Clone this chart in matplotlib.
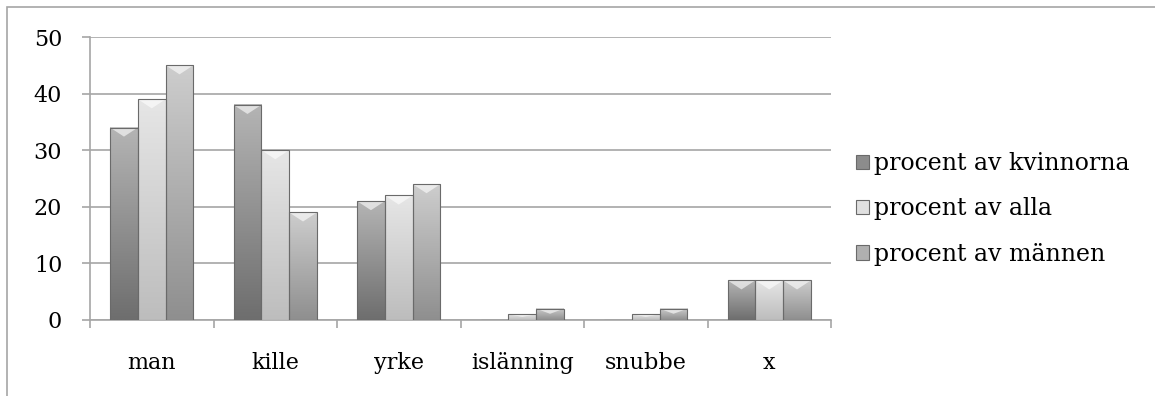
import numpy as np
import matplotlib
matplotlib.use('Agg')
import matplotlib.pyplot as plt
from matplotlib.colors import LinearSegmentedColormap
from matplotlib.patches import Patch, Rectangle

categories = ['man', 'kille', 'yrke', 'islänning', 'snubbe', 'x']
kvinnorna = [34, 38, 21, 0, 0, 7]
alla = [39, 30, 22, 1, 1, 7]
mannen = [45, 19, 24, 2, 2, 7]
labels = ['procent av kvinnorna', 'procent av alla', 'procent av männen']

# (top colour, bottom colour) for each series
shades = [('#b4b4b4', '#6e6e6e'), ('#e6e6e6', '#bdbdbd'), ('#cdcdcd', '#8f8f8f')]

plt.rcParams['font.family'] = ['DejaVu Serif']

fig = plt.figure(figsize=(11.55, 3.96), dpi=100)
ax = fig.add_axes([90 / 1155, 1 - 320 / 396, 741 / 1155, 283 / 396])

# outer chart frame (clipped at right and bottom)
fig.patches.append(Rectangle((7 / 1155, -0.5), 2, 1.5 - 7 / 396, transform=fig.transFigure,
                             fill=False, edgecolor='#a6a6a6', linewidth=1.2))

x = np.arange(len(categories))
w = 0.225
grad = np.linspace(0, 1, 100).reshape(-1, 1)
for i, vals in enumerate([kvinnorna, alla, mannen]):
    cmap = LinearSegmentedColormap.from_list('s%d' % i, [shades[i][1], shades[i][0]])
    xs = x + (i - 1) * w
    bars = ax.bar(xs, vals, w, color='none', edgecolor='#6a6a6a', linewidth=0.8, zorder=4)
    for b, v in zip(bars, vals):
        if v <= 0:
            continue
        x0 = b.get_x()
        ax.imshow(grad, extent=[x0, x0 + w, 0, v], origin='lower', aspect='auto',
                  cmap=cmap, zorder=3, interpolation='bilinear')
        # light bevel chevron at the top of each bar
        d = min(1.6, v * 0.45)
        ax.fill([x0, x0 + w / 2, x0 + w, x0 + w, x0], [v, v - d, v, v, v],
                color='white', alpha=0.6, zorder=3.5, linewidth=0)

ax.set_xlim(-0.5, len(categories) - 0.5)
ax.set_ylim(0, 50)
ax.set_yticks(range(0, 51, 10))
ax.yaxis.grid(True, color='#a6a6a6', linewidth=1.2)
ax.set_axisbelow(True)
ax.set_xticks(np.arange(len(categories) + 1) - 0.5)
ax.set_xticklabels([])
ax.set_xticks(x, minor=True)
ax.set_xticklabels(categories, minor=True, fontsize=16)
ax.tick_params(axis='x', which='minor', length=0, pad=23)
ax.tick_params(axis='x', which='major', length=6, direction='out', color='#a6a6a6', width=1.2)
ax.tick_params(axis='y', length=6, direction='out', color='#a6a6a6', width=1.2,
               labelsize=16, pad=14)
for s in ['top', 'right']:
    ax.spines[s].set_visible(False)
for s in ['left', 'bottom']:
    ax.spines[s].set_color('#a6a6a6')
    ax.spines[s].set_linewidth(1.2)

handles = [Patch(facecolor=c, edgecolor='#6a6a6a', linewidth=0.8)
           for c in ['#8c8c8c', '#e0e0e0', '#b0b0b0']]
fig.legend(handles, labels, loc='center left', bbox_to_anchor=(856 / 1155, 1 - 209 / 396),
           frameon=False, fontsize=17, handlelength=0.55, handleheight=0.55, handletextpad=0.2,
           labelspacing=0.95, borderpad=0, borderaxespad=0)

fig.savefig('out.png', dpi=100)
